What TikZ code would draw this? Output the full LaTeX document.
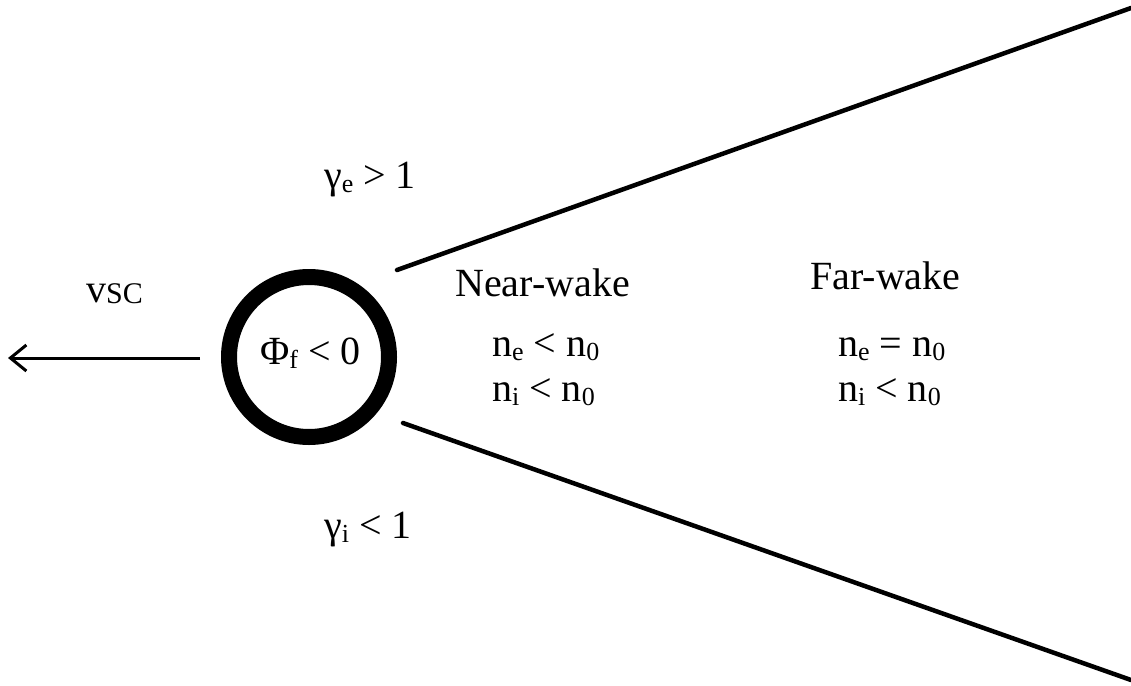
\documentclass[tikz,border=0pt]{standalone}
\usepackage{fontspec}
\setmainfont{Liberation Serif}
\usetikzlibrary{arrows.meta}
\newcommand\sbs[1]{\raisebox{-4pt}{\fontsize{26}{26}\selectfont #1}}
\begin{document}
\begin{tikzpicture}[x=1pt,y=-1pt,
  lbl/.style={anchor=base west,inner sep=0pt,font=\fontsize{40}{44}\selectfont},
  wake/.style={line width=4.5pt,line cap=round}]
\useasboundingbox (0,0) rectangle (1131,685);
% spacecraft
\draw[line width=16pt] (309,357) circle[radius=80];
\node[lbl] (phi) at (260,364) {Φ\sbs{f} < 0};
\coordinate (astart) at (200,358);
\coordinate (aend) at (8,358);
\draw[line width=3pt,-{Straight Barb[length=16pt,width=26pt,line width=3pt]}] (astart) -- (aend);
\node[lbl] (v) at (86,302) {v\raisebox{-1pt}{\fontsize{30}{30}\selectfont SC}};
% wake boundaries
\coordinate (u1) at (397,270);
\coordinate (u2) at (1131,8);
\coordinate (l1) at (403,423);
\coordinate (l2) at (1131,680);
\draw[wake] (u1) -- (u2);
\draw[wake] (l1) -- (l2);
% labels
\node[lbl] (ge) at (324,188) {γ\sbs{e} > 1};
\node[lbl] (gi) at (324,538) {γ\sbs{i} < 1};
\node[lbl] (nw) at (455,296) {Near-wake};
\node[lbl] (nwe) at (492,356) {n\sbs{e} < n\sbs{0}};
\node[lbl] (nwi) at (492,401) {n\sbs{i} < n\sbs{0}};
\node[lbl] (fw) at (810,289) {Far-wake};
\node[lbl] (fwe) at (838,356) {n\sbs{e} = n\sbs{0}};
\node[lbl] (fwi) at (838,401) {n\sbs{i} < n\sbs{0}};
\end{tikzpicture}
\end{document}
